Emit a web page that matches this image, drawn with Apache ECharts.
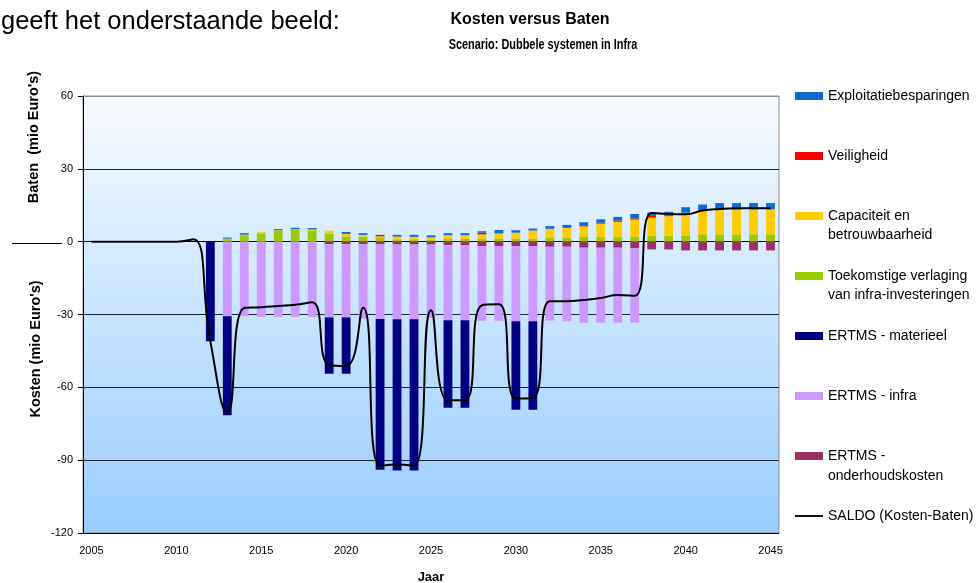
<!DOCTYPE html>
<html>
<head>
<meta charset="utf-8">
<script src="https://cdn.jsdelivr.net/npm/echarts@6/dist/echarts.min.js"></script>
<style>
    html, body { margin: 0; padding: 0; background: #fff; }
    #main { width: 980px; height: 583px; }
</style>
</head>
<body>
<div id="main"></div>
<script type="text/javascript">
    // jaren 2005 - 2045
    var years = ['2005','2006','2007','2008','2009','2010','2011','2012','2013','2014',
                 '2015','2016','2017','2018','2019','2020','2021','2022','2023','2024',
                 '2025','2026','2027','2028','2029','2030','2031','2032','2033','2034',
                 '2035','2036','2037','2038','2039','2040','2041','2042','2043','2044','2045'];
    var yTicks = [-120, -90, -60, -30, 0, 30, 60];

    // baten (mio euro)
    var toekomstig = [0,0,0,0,0,0,0,0, 1.3,2.7,3.4,4.4,4.8,4.7,3.2,2.1,2.1,1.8,1.0,1.0,0.8,1.2,1.2,1.2,1.2,1.2,1.2,1.5,1.6,1.9,1.9,1.9,2.1,2.3,2.3,2.6,3.0,3.0,3.0,3.0,3.0];
    var capaciteit = [0,0,0,0,0,0,0,0, 0,0.2,0.5,0.3,0.3,0.3,1.3,1.1,0.7,0.4,1.1,1.0,1.0,1.5,1.5,1.8,2.2,2.5,3.4,3.8,4.1,4.4,5.5,6.3,7.0,7.6,8.2,9.3,10.0,10.3,10.3,10.3,10.3];
    var veiligheid = [0,0,0,0,0,0,0,0, 0,0,0,0,0,0,0,0,0,0.6,0,0,0,0,0,0.7,0,0,0,0,0,0.5,0.4,0.5,0.5,0.7,0.4,0,0,0,0,0,0];
    var exploitatie = [0,0,0,0,0,0,0,0, 0.4,0.6,0,0.5,0.6,0.6,0,0.8,0.7,0,0.7,0.8,0.8,0.8,0.8,0.6,1.4,1.0,0.8,1.1,1.2,1.2,1.4,1.5,1.8,1.4,1.4,2.3,2.3,2.6,2.6,2.6,2.6];

    // kosten (mio euro)
    var onderhoud = [0,0,0,0,0,0,0,0, 0,0,0,0,0,0,-1.0,-1.0,-1.1,-1.1,-1.2,-1.2,-1.2,-1.4,-1.4,-1.8,-1.8,-1.8,-1.8,-2.1,-2.1,-2.5,-2.5,-2.5,-2.7,-3.2,-3.2,-3.6,-3.6,-3.6,-3.6,-3.6,-3.6];
    var infra = [0,0,0,0,0,0,0,0, -30.7,-30.7,-31.0,-31.0,-31.0,-31.0,-30.2,-30.2,-30.6,-30.8,-30.8,-30.8,-30.2,-31.0,-31.0,-30.8,-30.8,-31.0,-31.0,-30.4,-30.7,-30.9,-30.9,-30.9,-30.7,0,0,0,0,0,0,0,0];
    var materieel = [0,0,0,0,0,0,0,-41.0, -40.8,0,0,0,0,0,-23.2,-23.2,0,-62.0,-62.3,-62.3,0,-36.0,-36.0,0,0,-36.4,-36.4,0,0,0,0,0,0,0,0,0,0,0,0,0,0];

    var saldo = [0,0,0,0,0,0,1,-41, -70.5,-27.3,-27,-26.5,-26,-25,-50.8,-51.2,-27.2,-92.3,-91.8,-92.3,-28.2,-65.3,-65.3,-26.2,-25.8,-64.6,-64.4,-24.5,-24.5,-24,-23.2,-22,-22.3,11.8,11.4,11.3,12.8,13.5,13.8,13.8,13.8];

    var FONT = 'Liberation Sans, Arial, sans-serif';
    var myChart = echarts.init(document.getElementById('main'), null, { renderer: 'canvas' });

    function barSerie(name, data, color) {
        return {
            name: name,
            type: 'bar',
            stack: 'totaal',
            barWidth: '52%',
            data: data,
            itemStyle: { color: color },
            emphasis: { disabled: true }
        };
    }

    myChart.setOption({
        animation: false,
        textStyle: { fontFamily: FONT },
        grid: {
            left: 83, right: 201, top: 96, bottom: 50,
            outerBoundsMode: 'none',
            containLabel: false,
            show: true,
            borderColor: '#8c8c8c',
            borderWidth: 1,
            backgroundColor: new echarts.graphic.LinearGradient(0, 0, 0, 1, [
                { offset: 0, color: '#f7fbff' },
                { offset: 1, color: '#99ccff' }
            ])
        },
        legend: {
            orient: 'vertical',
            left: 795,
            top: 88,
            padding: 0,
            itemWidth: 28,
            itemHeight: 8,
            itemGap: 44,
            icon: 'rect',
            textStyle: { fontFamily: FONT, fontSize: 14, color: '#000', lineHeight: 16 },
            formatter: function (name) {
                if (name === 'Capaciteit en betrouwbaarheid') return 'Capaciteit en';
                if (name === 'Toekomstige verlaging van infra-investeringen') return 'Toekomstige verlaging';
                if (name === 'ERTMS - onderhoudskosten') return 'ERTMS -';
                return name;
            },
            data: [
                'Exploitatiebesparingen',
                'Veiligheid',
                'Capaciteit en betrouwbaarheid',
                'Toekomstige verlaging van infra-investeringen',
                'ERTMS - materieel',
                'ERTMS - infra',
                'ERTMS - onderhoudskosten',
                { name: 'SALDO (Kosten-Baten)', icon: 'path://M0,0 L30,0 L30,2 L0,2 Z', itemStyle: { color: '#000' } }
            ]
        },
        graphic: [
            { type: 'text', left: 1, top: 9, style: { text: 'geeft het onderstaande beeld:', font: '25.5px ' + FONT, fill: '#000' } },
            { type: 'text', x: 530, y: 12, style: { text: 'Kosten versus Baten', font: 'bold 16px ' + FONT, fill: '#000', align: 'center' } },
            { type: 'text', x: 543, y: 38, scaleX: 0.78, style: { text: 'Scenario: Dubbele systemen in Infra', font: 'bold 14px ' + FONT, fill: '#000', align: 'center' } },
            { type: 'text', x: 34, y: 137, rotation: Math.PI / 2, style: { text: "Baten  (mio Euro's)", font: 'bold 14.5px ' + FONT, fill: '#000', align: 'center', verticalAlign: 'middle' } },
            { type: 'text', x: 36, y: 349, rotation: Math.PI / 2, style: { text: "Kosten (mio Euro's)", font: 'bold 14.5px ' + FONT, fill: '#000', align: 'center', verticalAlign: 'middle' } },
            { type: 'line', shape: { x1: 12, y1: 243.5, x2: 62, y2: 243.5 }, style: { stroke: '#000', lineWidth: 1 } },
            { type: 'text', x: 828, y: 235.5, style: { text: 'betrouwbaarheid', font: '14px ' + FONT, fill: '#000', verticalAlign: 'middle' } },
            { type: 'text', x: 828, y: 295.5, style: { text: 'van infra-investeringen', font: '14px ' + FONT, fill: '#000', verticalAlign: 'middle' } },
            { type: 'text', x: 828, y: 476, style: { text: 'onderhoudskosten', font: '14px ' + FONT, fill: '#000', verticalAlign: 'middle' } }
        ],
        xAxis: {
            type: 'category',
            data: years,
            boundaryGap: true,
            name: 'Jaar',
            nameLocation: 'middle',
            nameGap: 38,
            nameTextStyle: { fontFamily: FONT, fontSize: 13, fontWeight: 'bold', color: '#000' },
            axisLine: { lineStyle: { color: '#000', width: 1 } },
            axisTick: { interval: 0, length: 5, lineStyle: { color: '#000' } },
            axisLabel: { interval: 4, fontSize: 11, color: '#000', margin: 12, fontFamily: FONT },
            splitLine: { show: false }
        },
        yAxis: {
            type: 'value',
            min: yTicks[0],
            max: yTicks[yTicks.length - 1],
            interval: 30,
            axisLine: { show: true, lineStyle: { color: '#000', width: 1 } },
            axisTick: { show: true, length: 5, lineStyle: { color: '#000' } },
            axisLabel: { fontSize: 11, color: '#000', margin: 10, fontFamily: FONT },
            splitLine: {
                show: true,
                lineStyle: { color: ['#000', '#222', '#222', '#222', '#222', '#222', '#8c8c8c'], width: 1 }
            }
        },
        series: [
            barSerie('Toekomstige verlaging van infra-investeringen', toekomstig, '#99cc00'),
            barSerie('Capaciteit en betrouwbaarheid', capaciteit, '#ffcc00'),
            barSerie('Veiligheid', veiligheid, '#ff0000'),
            barSerie('Exploitatiebesparingen', exploitatie, '#0f6bd2'),
            barSerie('ERTMS - onderhoudskosten', onderhoud, '#993366'),
            barSerie('ERTMS - infra', infra, '#cc99ff'),
            barSerie('ERTMS - materieel', materieel, '#000080'),
            {
                name: 'SALDO (Kosten-Baten)',
                type: 'line',
                data: saldo,
                smooth: 0.5,
                symbol: 'none',
                z: 10,
                itemStyle: { color: '#000' },
                lineStyle: { color: '#000', width: 2 },
                emphasis: { disabled: true }
            }
        ]
    });
</script>
</body>
</html>
